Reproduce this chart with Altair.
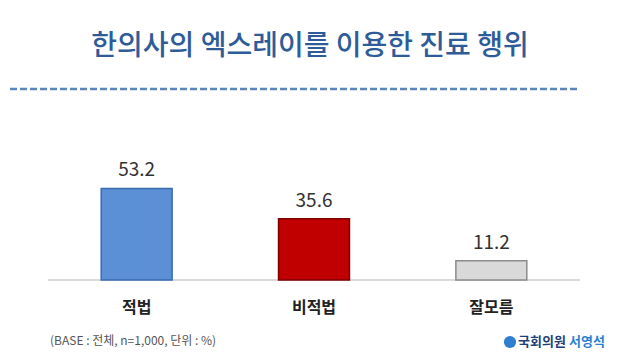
import altair as alt
import pandas as pd

categories = ["적법", "비적법", "잘모름"]
values = [53.2, 35.6, 11.2]
fills = ["#5b8fd6", "#c00000", "#d9d9d9"]
strokes = ["#3b6cb0", "#7f0000", "#8c8c8c"]
title_text = "한의사의 엑스레이를 이용한 진료 행위"
footnote = "(BASE : 전체, n=1,000, 단위 : %)"
logo_a = "국회의원"
logo_b = "서영석"

FONT = "Noto Sans CJK KR"

df = pd.DataFrame({"cat": categories, "val": values, "fill": fills, "stroke": strokes,
                   "label": [f"{v:.1f}" for v in values]})
one = pd.DataFrame({"a": [0]})

xs = alt.X("cat:N", sort=categories, axis=None,
           scale=alt.Scale(range=[40, 572], paddingInner=0.6, paddingOuter=0.3))
ys = alt.Y("val:Q", axis=None, scale=alt.Scale(domain=[0, 100], range=[272, 100]))

bars = alt.Chart(df).mark_bar(strokeWidth=1.5).encode(
    x=xs, y=ys,
    color=alt.Color("fill:N", scale=None),
    stroke=alt.Stroke("stroke:N", scale=None),
)

vals = alt.Chart(df).mark_text(font=FONT, fontSize=19, color="#333333", baseline="bottom", dy=-8).encode(
    x=xs, y=ys, text="label:N")

cats = alt.Chart(df).mark_text(font=FONT, fontSize=16, fontWeight="bold", color="#222222", baseline="middle").encode(
    x=xs, y=alt.value(299.5), text="cat:N")

baseline = alt.Chart(one).mark_rule(color="#cfcfcf", strokeWidth=1.5).encode(
    x=alt.value(40), x2=alt.value(572), y=alt.value(272))

dash = alt.Chart(one).mark_rule(color="#5b86bd", strokeWidth=2.5, strokeDash=[7, 3]).encode(
    x=alt.value(-8), x2=alt.value(572), y=alt.value(81))

title = alt.Chart(one).mark_text(font=FONT, fontSize=28, fontWeight=500, color="#2e5c99",
                                 baseline="middle", align="center").encode(
    x=alt.value(302), y=alt.value(39), text=alt.value(title_text))

foot = alt.Chart(one).mark_text(font=FONT, fontSize=12, color="#555555", baseline="middle", align="left").encode(
    x=alt.value(42), y=alt.value(333), text=alt.value(footnote))

logo_icon = alt.Chart(one).mark_point(shape="circle", filled=True, size=150, color="#2f7fd0", opacity=1).encode(
    x=alt.value(502), y=alt.value(334))

logo1 = alt.Chart(one).mark_text(font=FONT, fontSize=13, fontWeight="bold", color="#1f3f7a", baseline="middle", align="left").encode(
    x=alt.value(510), y=alt.value(334), text=alt.value(logo_a))
logo2 = alt.Chart(one).mark_text(font=FONT, fontSize=13, fontWeight="bold", color="#2f7fd0", baseline="middle", align="left").encode(
    x=alt.value(561), y=alt.value(334), text=alt.value(logo_b))

chart = alt.layer(dash, title, baseline, bars, vals, cats, foot, logo_icon, logo1, logo2).properties(
    width=603, height=344, autosize=alt.AutoSizeParams(type="none"), padding=0,
    background="white"
).configure_view(stroke=None)

chart.save("out.html", embed_options={"renderer": "svg", "actions": False})
